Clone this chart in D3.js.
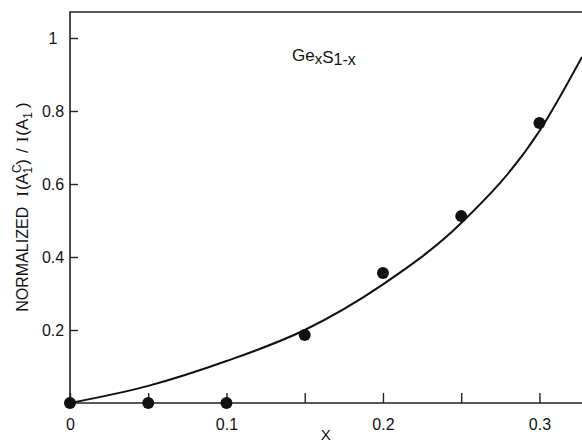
<!DOCTYPE html>
<html>
<head>
<meta charset="utf-8">
<script src="https://cdn.jsdelivr.net/npm/d3@7"></script>
<style>
  html, body { margin: 0; padding: 0; background: #fff; }
  svg { display: block; }
  text { font-family: "Liberation Sans", Arial, sans-serif; fill: #111; }
</style>
</head>
<body>
<svg id="chart" width="582" height="443"></svg>
<script>
// Measured composition points
const compX = [0, 0.05, 0.1, 0.15, 0.2, 0.25, 0.3];
const compY = [0, 0, 0, 0.186, 0.356, 0.512, 0.767];

// Fitted curve, sampled along x
const curveX = [0, 0.05, 0.1, 0.15, 0.2, 0.25, 0.3, 0.3272];
const curveY = [0, 0.047, 0.115, 0.2, 0.325, 0.493, 0.745, 0.948];

// Axis ticks
const xTickValues = [0, 0.05, 0.1, 0.15, 0.2, 0.25, 0.3];
const xTickLabels = ["0", "", "0.1", "", "0.2", "", "0.3"];
const yTickValues = [0.2, 0.4, 0.6, 0.8, 1];
const yTickLabels = ["0.2", "0.4", "0.6", "0.8", "1"];

const svg = d3.select("#chart");
const plotLeft = 70, plotRight = 582, plotBottom = 403, plotTop = 12;

const x = d3.scaleLinear().domain([0, 0.3272]).range([plotLeft, plotRight]);
const y = d3.scaleLinear().domain([0, 1]).range([plotBottom, 38]);

const ink = "#111";

// Frame: left, top and bottom lines
svg.append("path")
  .attr("d", `M${plotRight},${plotTop}H${plotLeft}V${plotBottom}H${plotRight}`)
  .attr("fill", "none").attr("stroke", "#222").attr("stroke-width", 1.6);

// X axis ticks (pointing inward) and labels
const xAxis = d3.axisBottom(x)
  .tickValues(xTickValues)
  .tickSizeInner(-10).tickSizeOuter(0)
  .tickFormat((d, i) => xTickLabels[i]);
const gx = svg.append("g").attr("transform", `translate(0,${plotBottom})`).call(xAxis);
gx.select(".domain").remove();
gx.selectAll(".tick line").attr("stroke", "#222").attr("stroke-width", 1.4);
gx.selectAll(".tick text")
  .attr("y", 27).attr("dy", 0)
  .style("font-size", "16px").style("font-family", "Liberation Sans, Arial, sans-serif")
  .attr("fill", ink);

// Y axis ticks (pointing inward) and labels
const yAxis = d3.axisLeft(y)
  .tickValues(yTickValues)
  .tickSizeInner(-8).tickSizeOuter(0)
  .tickFormat((d, i) => yTickLabels[i]);
const gy = svg.append("g").attr("transform", `translate(${plotLeft},0)`).call(yAxis);
gy.select(".domain").remove();
gy.selectAll(".tick line").attr("stroke", "#222").attr("stroke-width", 1.4);
gy.selectAll(".tick text")
  .attr("x", -17).attr("dy", "0.36em")
  .attr("text-anchor", "middle")
  .style("font-size", "16px").style("font-family", "Liberation Sans, Arial, sans-serif")
  .attr("fill", ink);

// Axis titles
svg.append("text")
  .attr("x", x(0.1635)).attr("y", 440)
  .attr("text-anchor", "middle")
  .style("font-size", "15px")
  .text("X");

const yt = svg.append("text")
  .attr("transform", "translate(28,207) rotate(-90)")
  .attr("text-anchor", "middle")
  .style("font-size", "16px");
yt.append("tspan").text("NORMALIZED");
yt.append("tspan").attr("dx", 10).style("font-family", "Liberation Serif, serif").style("font-size", "17px").text("I");
yt.append("tspan").attr("dx", 1).style("font-size", "17px").text("(A");
yt.append("tspan").attr("dy", -7).style("font-size", "12px").text("C");
yt.append("tspan").attr("dx", -9).attr("dy", 11).style("font-size", "12px").text("1");
yt.append("tspan").attr("dx", 2).attr("dy", -4).style("font-size", "17px").text(")");
yt.append("tspan").attr("dx", 6).style("font-size", "17px").text("/");
yt.append("tspan").attr("dx", 6).style("font-family", "Liberation Serif, serif").style("font-size", "17px").text("I");
yt.append("tspan").attr("dx", 1).style("font-size", "17px").text("(A");
yt.append("tspan").attr("dy", 4).style("font-size", "12px").text("1");
yt.append("tspan").attr("dx", 4).attr("dy", -4).style("font-size", "17px").text(")");

// Composition label
const lab = svg.append("text")
  .attr("x", 292).attr("y", 61)
  .style("font-size", "17px");
lab.append("tspan").text("Ge");
lab.append("tspan").attr("dy", 3).style("font-size", "15px").text("x");
lab.append("tspan").attr("dy", -1).text("S");
lab.append("tspan").attr("dy", 2).style("font-size", "16px").text("1-x");

// Fitted curve
const line = d3.line()
  .x((d, i) => x(curveX[i]))
  .y(d => y(d))
  .curve(d3.curveMonotoneX);
svg.append("path")
  .datum(curveY)
  .attr("d", line)
  .attr("fill", "none")
  .attr("stroke", ink)
  .attr("stroke-width", 2);

// Data points
svg.selectAll("circle.pt")
  .data(compY)
  .join("circle")
  .attr("class", "pt")
  .attr("cx", (d, i) => x(compX[i]))
  .attr("cy", d => y(d))
  .attr("r", 6)
  .attr("fill", ink);
</script>
</body>
</html>
